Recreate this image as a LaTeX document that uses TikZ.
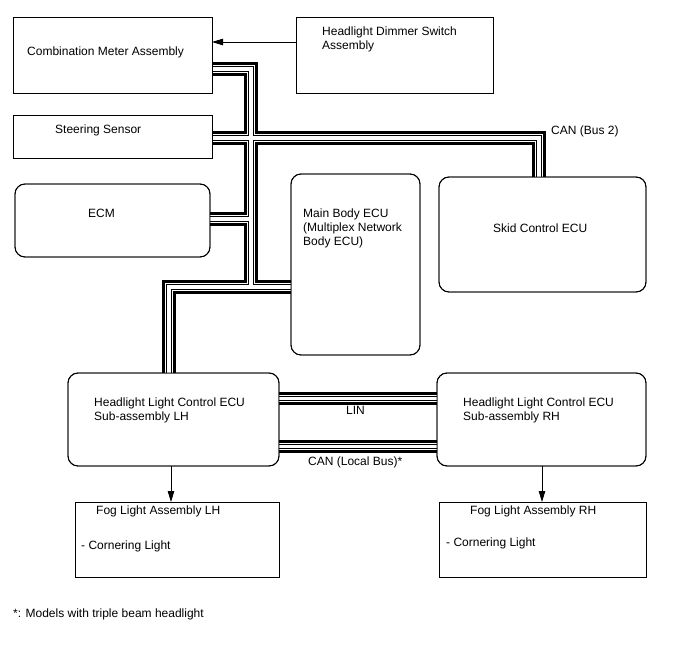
\documentclass[tikz,border=0pt]{standalone}
\usepackage{fontspec}
\setmainfont{Liberation Sans}
\usetikzlibrary{arrows.meta}
\begin{document}
\begin{tikzpicture}[x=1pt,y=-1pt,
  box/.style={draw, line width=0.9pt, anchor=north west, inner sep=0pt, outer sep=0pt},
  rbox/.style={box, rounded corners=10pt},
  lbl/.style={anchor=base west, inner sep=0pt, font=\fontsize{12}{14}\selectfont},
  arr/.style={line width=0.9pt, -{Triangle[length=11pt,width=6.5pt]}}
]
\useasboundingbox (0,0) rectangle (688,658);

% bus junction coordinates
\coordinate (tA) at (251,69);
\coordinate (tX) at (251,138);
\coordinate (tE) at (251,219);
\coordinate (tB) at (251,287);
\coordinate (lB) at (169,287);
\coordinate (sk) at (539,138);
\coordinate (lin) at (358,398.5);
\coordinate (canl) at (358,446.5);
\coordinate (ay) at (250,42);
\coordinate (al) at (171,480);
\coordinate (ar) at (542,480);

% boxes
\node[box, minimum width=199pt, minimum height=76pt] (cm) at (13,17) {};
\node[box, minimum width=197pt, minimum height=76pt] (dim) at (296,17) {};
\node[box, minimum width=199pt, minimum height=43pt] (ss) at (13,115) {};
\node[rbox, minimum width=195pt, minimum height=73pt] (ecm) at (15,184) {};
\node[rbox, minimum width=129pt, minimum height=181pt] (mb) at (291,174) {};
\node[rbox, minimum width=207pt, minimum height=115pt] (skid) at (439,177) {};
\node[rbox, minimum width=211pt, minimum height=93pt] (hll) at (68,373) {};
\node[rbox, minimum width=209pt, minimum height=93pt] (hlr) at (437,373) {};
\node[box, minimum width=204pt, minimum height=75pt] (fogl) at (75,502) {};
\node[box, minimum width=207pt, minimum height=75pt] (fogr) at (439,502) {};

% buses
\newcommand\buspaths{
  (cm.east |- tA) -- (tA) -- (tB)
  (ss.east |- tX) -- (sk) -- (sk |- skid.north)
  (ecm.east |- tE) -- (tE)
  (hll.north -| lB) -- (lB) -- (mb.west |- lB)
  (hll.east |- lin) -- (hlr.west |- lin)
  (hll.east |- canl) -- (hlr.west |- canl)
}
\foreach \w/\c in {13.5/black,7.5/white,5.5/black,3.5/white}{
  \draw[line width=\w pt,\c] \buspaths;
}

% redraw box borders on top
\foreach \n in {cm,dim,ss,fogl,fogr}{
  \draw[line width=0.9pt] (\n.north west) rectangle (\n.south east);
}
\foreach \n in {ecm,mb,skid,hll,hlr}{
  \draw[line width=0.9pt, rounded corners=10pt] (\n.north west) rectangle (\n.south east);
}

% arrows
\draw[arr] (dim.west |- ay) -- (cm.east |- ay);
\draw[arr] (hll.south -| al) -- (fogl.north -| al);
\draw[arr] (hlr.south -| ar) -- (fogr.north -| ar);

% texts
\node[lbl] (t1) at (27,56) {Combination Meter Assembly};
\node[lbl] (t2) at (322,36) {Headlight Dimmer Switch};
\node[lbl] (t3) at (322,50) {Assembly};
\node[lbl] (t4) at (55,134) {Steering Sensor};
\node[lbl] (t5) at (88,217) {ECM};
\node[lbl] (t6) at (303,217) {Main Body ECU};
\node[lbl] (t7) at (303,231) {(Multiplex Network};
\node[lbl] (t8) at (303,245) {Body ECU)};
\node[lbl] (t9) at (493,232) {Skid Control ECU};
\node[lbl] (t10) at (551,135) {CAN (Bus 2)};
\node[lbl] (t11) at (94,406) {Headlight Light Control ECU};
\node[lbl] (t12) at (94,420) {Sub-assembly LH};
\node[lbl] (t13) at (463,406) {Headlight Light Control ECU};
\node[lbl] (t14) at (463,420) {Sub-assembly RH};
\node[lbl] (t15) at (346,414) {LIN};
\node[lbl] (t16) at (308,465) {CAN (Local Bus)*};
\node[lbl] (t17) at (96,514) {Fog Light Assembly LH};
\node[lbl] (t18) at (81,549) {- Cornering Light};
\node[lbl] (t19) at (470,514) {Fog Light Assembly RH};
\node[lbl] (t20) at (446,546) {- Cornering Light};
\node[lbl] (t21) at (13,617) {*: Models with triple beam headlight};
\end{tikzpicture}
\end{document}
